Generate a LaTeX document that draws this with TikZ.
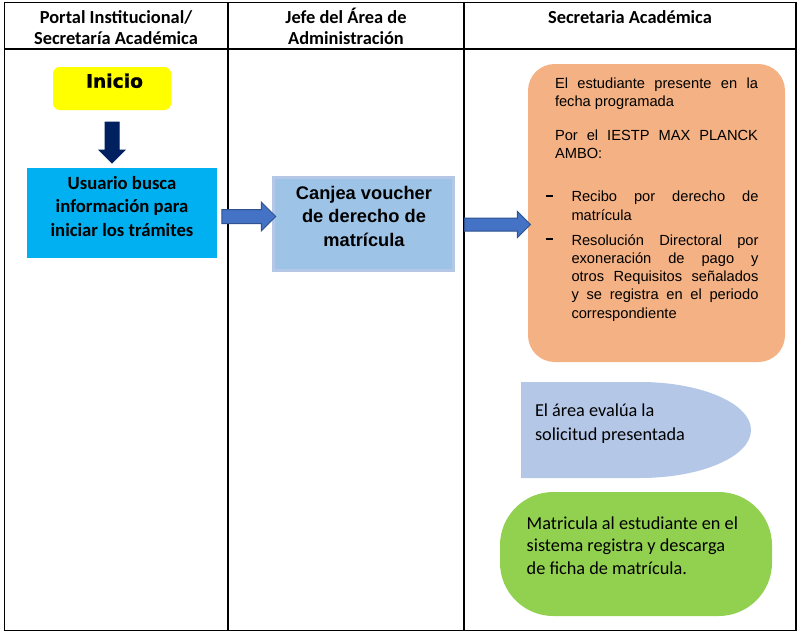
\documentclass[tikz,border=0pt]{standalone}
\usepackage{fontspec}
\setmainfont{Liberation Sans}
\newfontfamily\carlito{Carlito}
\newfontfamily\blackfont[BoldFeatures={FakeBold=1.2}]{DejaVu Sans}
\usetikzlibrary{shapes.arrows,calc}
\definecolor{inicioY}{HTML}{FFFF00}
\definecolor{navyA}{HTML}{002060}
\definecolor{cyanB}{HTML}{00B0F0}
\definecolor{arrB}{HTML}{4472C4}
\definecolor{arrE}{HTML}{2F528F}
\definecolor{canF}{HTML}{9DC3E6}
\definecolor{canE}{HTML}{B4C7E7}
\definecolor{orgF}{HTML}{F4B183}
\definecolor{bluF}{HTML}{B4C7E7}
\definecolor{grnF}{HTML}{92D050}
\newcommand{\ftop}{\leavevmode\vrule height 13pt width 0pt depth 0pt\relax}
\newcommand{\jset}{\hyphenpenalty=10000\relax\exhyphenpenalty=10000\relax}
\newcommand{\dashb}{\noindent\llap{\vrule height 5.1pt depth -3.6pt width 5.2pt\hspace{14pt}}}
\newcommand{\jbox}[2]{\parbox[t]{#1}{\jset\noindent\ftop #2\par}}
\begin{document}
\begin{tikzpicture}[x=0.75pt,y=-0.75pt,
  tbl/.style={draw=black, line width=0.8pt},
  txt/.style={inner sep=0pt, outer sep=0pt},
  hdr/.style={txt, anchor=north, align=center, font=\carlito\bfseries\fontsize{13.8}{16.3}\selectfont},
  shp/.style={inner sep=0pt, outer sep=0pt},
  blockarr/.style={single arrow, inner xsep=0pt, outer sep=0pt, line width=0.75pt, minimum width=0pt},
  rarrow/.style={blockarr, draw=arrE, fill=arrB},
  orgtxt/.style={txt, anchor=north west, font=\fontsize{11}{13.7}\selectfont},
  caltxt/.style={txt, anchor=north west, align=left, font=\carlito\fontsize{13.7}{18}\selectfont}
]
\useasboundingbox (0,0) rectangle (800,632);
% table
\draw[tbl] (4.5,2.5) rectangle (796,630.5);
\draw[tbl] (4.5,49) -- (796,49);
\draw[tbl] (228,2.5) -- (228,630.5);
\draw[tbl] (464,2.5) -- (464,630.5);
% headers
\node[hdr] (h1) at (116,5.7) {\ftop Portal Institucional/\\Secretaría Académica};
\node[hdr] (h2) at (346,5.7) {\ftop Jefe del Área de\\Administración};
\node[hdr] (h3) at (630,5.7) {\ftop Secretaria Académica};
% Inicio
\node[shp, fill=inicioY, rounded corners=5pt, minimum width=88.5pt, minimum height=32.25pt] (inicio) at (112,88.5) {};
\node[txt, anchor=north, font=\blackfont\bfseries\fontsize{14}{16}\selectfont] (inicioT) at (114.5,70.4) {\ftop Inicio};
% usuario
\node[shp, fill=cyanB, minimum width=142.5pt, minimum height=67.5pt] (usuario) at (122,213) {};
\node[txt, anchor=north, align=center, font=\carlito\bfseries\fontsize{14}{17.5}\selectfont] (usuarioT) at (122,172) {\ftop Usuario busca\\información para\\iniciar los trámites};
% down arrow
\node[blockarr, draw=navyA, fill=navyA, rotate=-90, inner ysep=4.875pt, minimum height=30.75pt, single arrow head extend=4.5pt] (a0) at ($(inicio.south)!0.5!(inicio.south |- usuario.north)$) {};
% canjea
\node[shp, draw=canE, line width=2.25pt, fill=canF, minimum width=135pt, minimum height=69.75pt] (canjea) at (363.5,224) {};
\node[txt, anchor=north, align=center, font=\bfseries\fontsize{13.7}{17.6}\selectfont] (canjeaT) at (364,182) {\ftop Canjea voucher\\de derecho de\\matrícula};
% arrow 1
\node[rarrow, inner ysep=4.875pt, minimum height=40.5pt, single arrow head extend=5.6pt] (a1) at ($(usuario.east)!0.5!(usuario.east -| canjea.west)+(0,3.5)$) {};
% orange box
\node[shp, fill=orgF, rounded corners=20pt, minimum width=192.75pt, minimum height=223.5pt] (orange) at (656.5,213) {};
\node[orgtxt] (p1) at (555,70.7) {\jbox{152.25pt}{El estudiante presente en la\linebreak fecha programada}};
\node[orgtxt] (p2) at (555,122.7) {\jbox{152.25pt}{Por el IESTP MAX PLANCK\linebreak AMBO:}};
\node[orgtxt] (p3) at (571.5,184.4) {\jbox{140.25pt}{\dashb Recibo por derecho de\linebreak matrícula}};
\node[orgtxt] (p4) at (571.5,227.7) {\jbox{140.25pt}{\dashb Resolución Directoral por\linebreak exoneración de pago y\linebreak otros Requisitos señalados\linebreak y se registra en el periodo\linebreak correspondiente}};
% arrow 2
\node[rarrow, inner ysep=4.5pt, minimum height=49.5pt, single arrow head extend=4.9pt] (a2) at ($(canjea.east)!0.5!(canjea.east -| orange.west)+(3.5,0.5)$) {};
% blue half-ellipse shape
\fill[bluF] (521,382) -- (640,382) arc[start angle=90, end angle=-90, x radius=83.25pt, y radius=36pt] -- (521,478) -- cycle;
\node[caltxt] (evaluaT) at (535,399.4) {\ftop El área evalúa la\\solicitud presentada};
% green
\node[shp, fill=grnF, rounded corners=40pt, minimum width=204pt, minimum height=93pt] (matric) at (636,554) {};
\node[caltxt, font=\carlito\fontsize{13.7}{16.8}\selectfont] (matricT) at (526.7,512) {\ftop Matricula al estudiante en el\\sistema registra y descarga\\de ficha de matrícula.};
\end{tikzpicture}
\end{document}
